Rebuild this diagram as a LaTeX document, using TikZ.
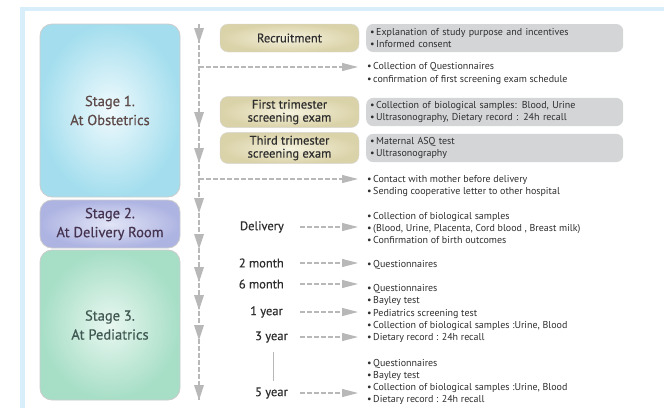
\documentclass[tikz,border=0pt]{standalone}
\usepackage{fontspec}
\setmainfont{PT Sans}
\newfontfamily\labelfont[FakeBold=0.5]{PT Sans}
\usetikzlibrary{arrows.meta}

\definecolor{frameblue}{HTML}{D8EEFA}
\definecolor{linegray}{HTML}{B8B8B8}
\definecolor{notegray}{HTML}{D3D5D7}
\definecolor{khakiout}{HTML}{DAD2A8}
\definecolor{khakiin}{HTML}{F5F2DE}
\definecolor{obsout}{HTML}{A4DEEE}
\definecolor{obsin}{HTML}{F0FAFD}
\definecolor{delout}{HTML}{AEB4E2}
\definecolor{delin}{HTML}{E2E5F6}
\definecolor{pedout}{HTML}{A6DEC6}
\definecolor{pedin}{HTML}{E8F7F0}
\definecolor{obstext}{HTML}{5E4A48}
\definecolor{deltext}{HTML}{45334F}
\definecolor{pedtext}{HTML}{3F5852}
\definecolor{bodytext}{HTML}{2E2E2E}

\newcommand{\notefont}{\fontsize{10}{12.3}\selectfont}
\newcommand{\bitem}{\textbullet\hspace{1.5pt}}

\tikzset{
  stagebox/.style={draw=gray!40, line width=0.8pt, rounded corners=12pt, shading=radial,
    minimum width=140pt, align=center,
    font=\labelfont\fontsize{14.5}{19}\selectfont},
  exambox/.style={draw=gray!30, rounded corners=8pt, shading=radial, inner color=khakiin,
    outer color=khakiout, minimum width=139pt, minimum height=28pt, align=center,
    text=bodytext, font=\labelfont\fontsize{12.5}{13}\selectfont},
  notebox/.style={fill=notegray, rounded corners=7pt, anchor=west, text width=249pt,
    inner xsep=4pt, minimum height=28pt, align=left, text=bodytext, font=\notefont},
  bullets/.style={anchor=west, inner sep=0pt, align=left, text=bodytext, font=\notefont},
  timelabel/.style={anchor=east, inner sep=0pt, text=bodytext, font=\labelfont\fontsize{12.5}{14}\selectfont},
  flowarrow/.style={draw=linegray, line width=1.2pt, dash pattern=on 5pt off 2pt,
    -{Triangle[length=16pt,width=8pt,fill=linegray]}},
}

\begin{document}
\begin{tikzpicture}[x=1pt,y=-1pt]
\useasboundingbox (0,0) rectangle (664,408);

% frame
\fill[frameblue] (20,7) rectangle (664,11);
\fill[frameblue] (20,7) rectangle (25,408);

% stages
\node[stagebox, inner color=obsin, outer color=obsout, minimum height=173pt, text=obstext] (s1) at (110,110.5) {Stage 1.\\At Obstetrics};
\node[stagebox, inner color=delin, outer color=delout, minimum height=48pt, text=deltext] (s2) at (110,224) {Stage 2.\\At Delivery Room};
\node[stagebox, inner color=pedin, outer color=pedout, minimum height=150pt, text=pedtext] (s3) at (110,325) {Stage 3.\\At Pediatrics};

% time line
\coordinate (top) at (199,24);
\coordinate (bot) at (199,400);
\draw[linegray, line width=1.2pt, dash pattern=on 5pt off 2pt] (top) -- (bot);
\foreach \y in {43,127,163,213,249,282,310,340,400}
  \fill[linegray] (194,\y-15) -- (204,\y-15) -- (199,\y) -- cycle;

% stage 1
\node[exambox] (rec) at (289.5,38) {Recruitment};
\node[notebox] (n1) at (366,38) {\bitem Explanation of study purpose and incentives\\\bitem Informed consent};
\node[bullets] (n2) at (367,73.5) {\bitem Collection of Questionnaires\\\bitem confirmation of first screening exam schedule};
\node[exambox] (tri1) at (289.5,112) {First trimester\\screening exam};
\node[notebox] (n3) at (366,112) {\bitem Collection of biological samples: Blood, Urine\\\bitem Ultrasonography, Dietary record : 24h recall};
\node[exambox] (tri3) at (289.5,148) {Third trimester\\screening exam};
\node[notebox] (n4) at (366,148) {\bitem Maternal ASQ test\\\bitem Ultrasonography};
\node[bullets] (n5) at (367,186) {\bitem Contact with mother before delivery\\\bitem Sending cooperative letter to other hospital};

\coordinate (br1) at (199,67);
\coordinate (br2) at (199,179);
\draw[flowarrow] (br1) -- ([xshift=-9pt]n2.west |- br1);
\draw[flowarrow] (br2) -- ([xshift=-9pt]n5.west |- br2);

% stage 2 and 3
\node[bullets] (n6) at (367,228) {\bitem Collection of biological samples\\\bitem (Blood, Urine, Placenta, Cord blood , Breast milk)\\\bitem Confirmation of birth outcomes};
\node[bullets] (n7) at (367,265) {\bitem Questionnaires};
\node[bullets] (n8) at (367,313.5) {\bitem Questionnaires\\\bitem Bayley test\\\bitem Pediatrics screening test\\\bitem Collection of biological samples :Urine, Blood\\\bitem Dietary record : 24h recall};
\node[bullets] (n9) at (367,382) {\bitem Questionnaires\\\bitem Bayley test\\\bitem Collection of biological samples :Urine, Blood\\\bitem Dietary record : 24h recall};

\node[timelabel] (del) at (284,227) {Delivery};
\node[timelabel] (m2) at (284,263) {2 month};
\node[timelabel] (m6) at (284,284) {6 month};
\node[timelabel] (y1) at (283,312) {1 year};
\node[timelabel] (y3) at (288,337) {3 year};
\node[timelabel] (y5) at (288,393) {5 year};

\foreach \t/\n in {del/n6,m2/n7,m6/n8,y1/n8,y3/n8,y5/n9}
  \draw[flowarrow] (\t.east -| 300,0) -- ([xshift=-9pt]\n.west |- \t.east);

\draw[linegray, line width=0.8pt] ([yshift=-9pt]y3.south -| 273,0) -- ([yshift=6pt]y5.north -| 273,0);
\end{tikzpicture}
\end{document}
